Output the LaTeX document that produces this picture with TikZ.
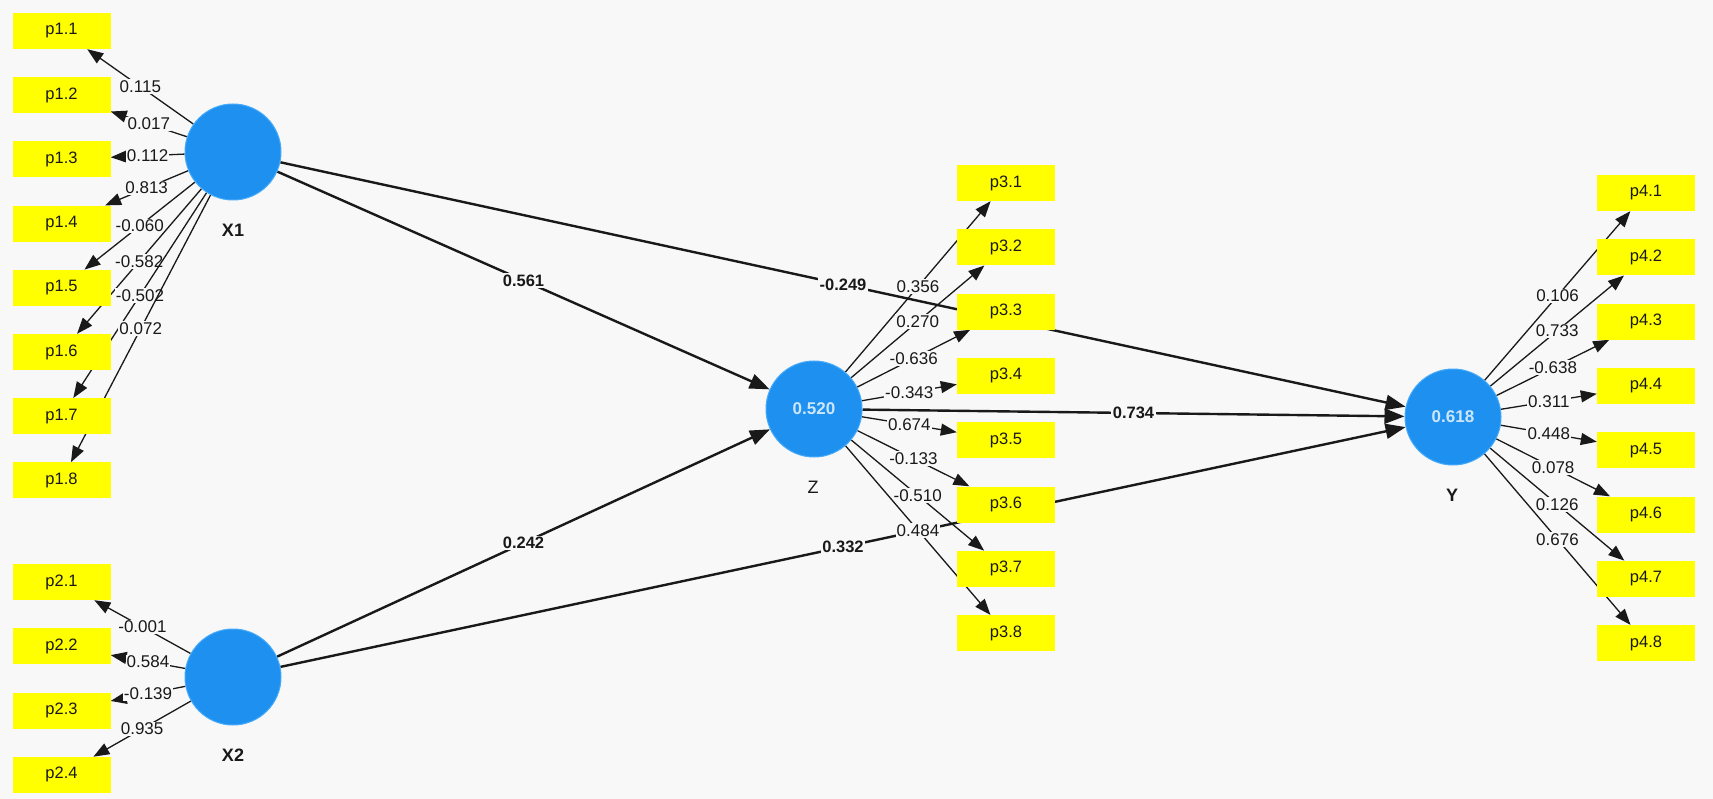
\documentclass[tikz,border=0pt]{standalone}
\usepackage{fontspec}
\setmainfont{Liberation Sans}
\usetikzlibrary{arrows.meta}
\definecolor{bgc}{RGB}{248,248,248}
\definecolor{lvblue}{RGB}{30,144,240}
\definecolor{lvrim}{RGB}{70,170,250}
\definecolor{mvyel}{RGB}{255,255,0}
\definecolor{lvtext}{RGB}{205,230,250}
\definecolor{ink}{RGB}{25,25,25}
\pgfdeclarelayer{bgfill}
\pgfdeclarelayer{links}
\pgfsetlayers{bgfill,links,main}
\begin{document}
\begin{tikzpicture}[x=1pt,y=-1pt,
 lv/.style={circle,fill=lvblue,draw=lvrim,line width=1pt,minimum size=96pt,inner sep=0pt,text=lvtext,font=\fontsize{17}{20}\selectfont\bfseries},
 mv/.style={rectangle,fill=mvyel,minimum width=98pt,minimum height=36pt,inner sep=0pt,font=\fontsize{16.5}{19}\selectfont,text=ink},
 lvname/.style={font=\fontsize{18}{21}\selectfont\bfseries,text=ink},
 lvnamez/.style={font=\fontsize{18}{21}\selectfont,text=ink},
 spath/.style={draw=ink,line width=2.4pt,-{Triangle[length=20pt,width=15pt]}},
 ldarrow/.style={draw=ink,line width=1.3pt,-{Triangle[length=16pt,width=12pt]}},
 plbl/.style={fill=bgc,inner sep=1.5pt,font=\fontsize{16.5}{19}\selectfont\bfseries,text=ink},
 llbl/.style={fill=bgc,inner sep=1.2pt,font=\fontsize{17}{19}\selectfont,text=ink}
]
\useasboundingbox (0,0) rectangle (1713,799);
\begin{pgfonlayer}{bgfill}
\fill[bgc] (0,0) rectangle (1713,799);
\end{pgfonlayer}

% latent variables
\node[lv] (X1) at (233,152) {};
\node[lv] (X2) at (233,677) {};
\node[lv] (Z) at (814,409) {0.520};
\node[lv] (Y) at (1453,417) {0.618};
\node[lvname] (nX1) at (233,230) {X1};
\node[lvname] (nX2) at (233,755) {X2};
\node[lvnamez] (nZ) at (813,487) {Z};
\node[lvname] (nY) at (1452,495) {Y};

% indicators
\foreach \i in {1,...,8} \node[mv] (p1\i) at (61.5,{31+64.2*(\i-1)}) {p1.\i};
\foreach \i in {1,...,4} \node[mv] (p2\i) at (61.5,{582+64.3*(\i-1)}) {p2.\i};
\foreach \i in {1,...,8} \node[mv] (p3\i) at (1006,{183+64.3*(\i-1)}) {p3.\i};
\foreach \i in {1,...,8} \node[mv] (p4\i) at (1646,{193+64.3*(\i-1)}) {p4.\i};

\begin{pgfonlayer}{links}
% structural paths
\draw[spath] (X1) -- (Z) node[midway,plbl] {0.561};
\draw[spath] (X1) -- (Y) node[midway,plbl] {-0.249};
\draw[spath] (X2) -- (Z) node[midway,plbl] {0.242};
\draw[spath] (X2) -- (Y) node[midway,plbl] {0.332};
\draw[spath] (Z) -- (Y) node[midway,plbl] {0.734};
% loadings
\foreach \i/\v in {1/0.115,2/0.017,3/0.112,4/0.813,5/-0.060,6/-0.582,7/-0.502,8/0.072}
  \draw[ldarrow] (X1) -- (p1\i) node[midway,llbl] {\v};
\foreach \i/\v in {1/-0.001,2/0.584,3/-0.139,4/0.935}
  \draw[ldarrow] (X2) -- (p2\i) node[midway,llbl] {\v};
\foreach \i/\v in {1/0.356,2/0.270,3/-0.636,4/-0.343,5/0.674,6/-0.133,7/-0.510,8/0.484}
  \draw[ldarrow] (Z) -- (p3\i) node[midway,llbl] {\v};
\foreach \i/\v in {1/0.106,2/0.733,3/-0.638,4/0.311,5/0.448,6/0.078,7/0.126,8/0.676}
  \draw[ldarrow] (Y) -- (p4\i) node[midway,llbl] {\v};
\end{pgfonlayer}
\end{tikzpicture}
\end{document}
